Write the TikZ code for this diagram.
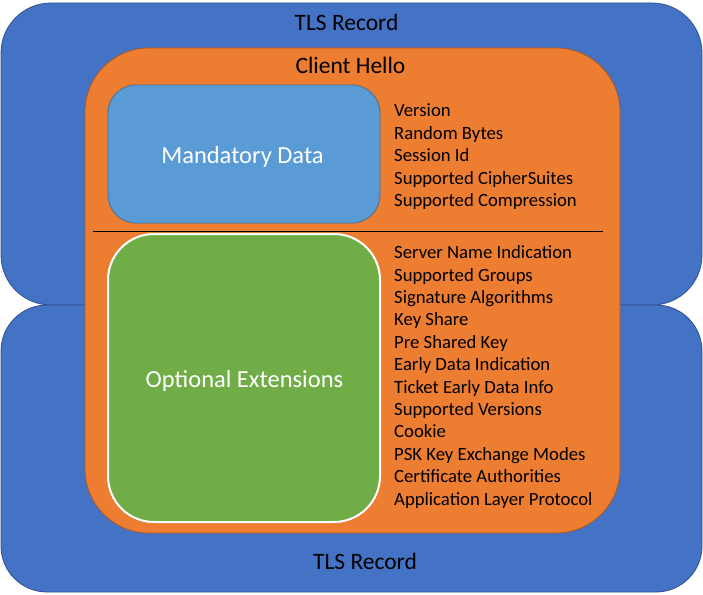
\documentclass[tikz,border=0pt]{standalone}
\usepackage{fontspec}
\setmainfont{Carlito}
\usepackage{xcolor}
\usepackage{tikz}
\usetikzlibrary{positioning}

\definecolor{recblue}{HTML}{4472C4}
\definecolor{recedge}{HTML}{2F528F}
\definecolor{helloorange}{HTML}{ED7D31}
\definecolor{helloedge}{HTML}{AE5A21}
\definecolor{mandblue}{HTML}{5B9BD5}
\definecolor{mandedge}{HTML}{41719C}
\definecolor{optgreen}{HTML}{70AD47}

\begin{document}
\begin{tikzpicture}[
                x=1pt, y=-1pt,
                recbox/.style={draw=recedge, line width=0.8pt, fill=recblue, rounded corners=50pt, minimum width=701pt, inner sep=0pt},
                hellobox/.style={draw=helloedge, line width=0.8pt, fill=helloorange, rounded corners=64pt, minimum width=535pt, minimum height=485pt, inner sep=0pt},
                innerbox/.style={rounded corners, minimum width=272pt, inner sep=0pt},
                title/.style={anchor=base, inner sep=0pt, font=\fontsize{23.5}{28}\selectfont},
                boxlabel/.style={anchor=base, inner sep=0pt, text=white, font=\fontsize{24.5}{29}\selectfont},
                fieldlist/.style={anchor=base west, inner sep=0pt, align=left, font=\fontsize{18.7}{22.4}\selectfont}
            ]
                \useasboundingbox (0,0) rectangle (703,594);

                % outer records
                \node[recbox, minimum height=302pt] (recordtop) at (351.5,154) {};
                \node[recbox, minimum height=287pt, rounded corners=46pt] (recordbot) at (351.5,448.5) {};
                \node[title] (recordtoplabel) at (346.5,31) {TLS Record};
                \node[title] (recordbotlabel) at (365,569) {TLS Record};

                % client hello
                \node[hellobox] (hello) at (352.5,290.5) {};
                \node[title] (hellolabel) at (350.5,74) {Client Hello};

                \node[innerbox, draw=mandedge, line width=0.8pt, fill=mandblue, rounded corners=28pt, minimum height=138pt] (mand) at (244,154) {};
                \node[boxlabel] (mandlabel) at (242.5,163) {Mandatory Data};

                \node[innerbox, draw=white, line width=2pt, fill=optgreen, rounded corners=46pt, minimum height=288pt] (opt) at (244,378) {};
                \node[boxlabel] (optlabel) at (244.5,387) {Optional Extensions};

                \coordinate (sepleft) at (93,231);
                \coordinate (sepright) at (603,231);
                \draw[line width=0.8pt] (sepleft) -- (sepright);

                % field names (base = last line)
                \node[fieldlist] (mandfields) at (394,206.5) {Version\\Random Bytes\\Session Id\\Supported CipherSuites\\Supported Compression};
                \node[fieldlist] (optfields) at (394,505) {Server Name Indication\\Supported Groups\\Signature Algorithms\\Key Share\\Pre Shared Key\\Early Data Indication\\Ticket Early Data Info\\Supported Versions\\Cookie\\PSK Key Exchange Modes\\Certificate Authorities\\Application Layer Protocol};
            \end{tikzpicture}
\end{document}
